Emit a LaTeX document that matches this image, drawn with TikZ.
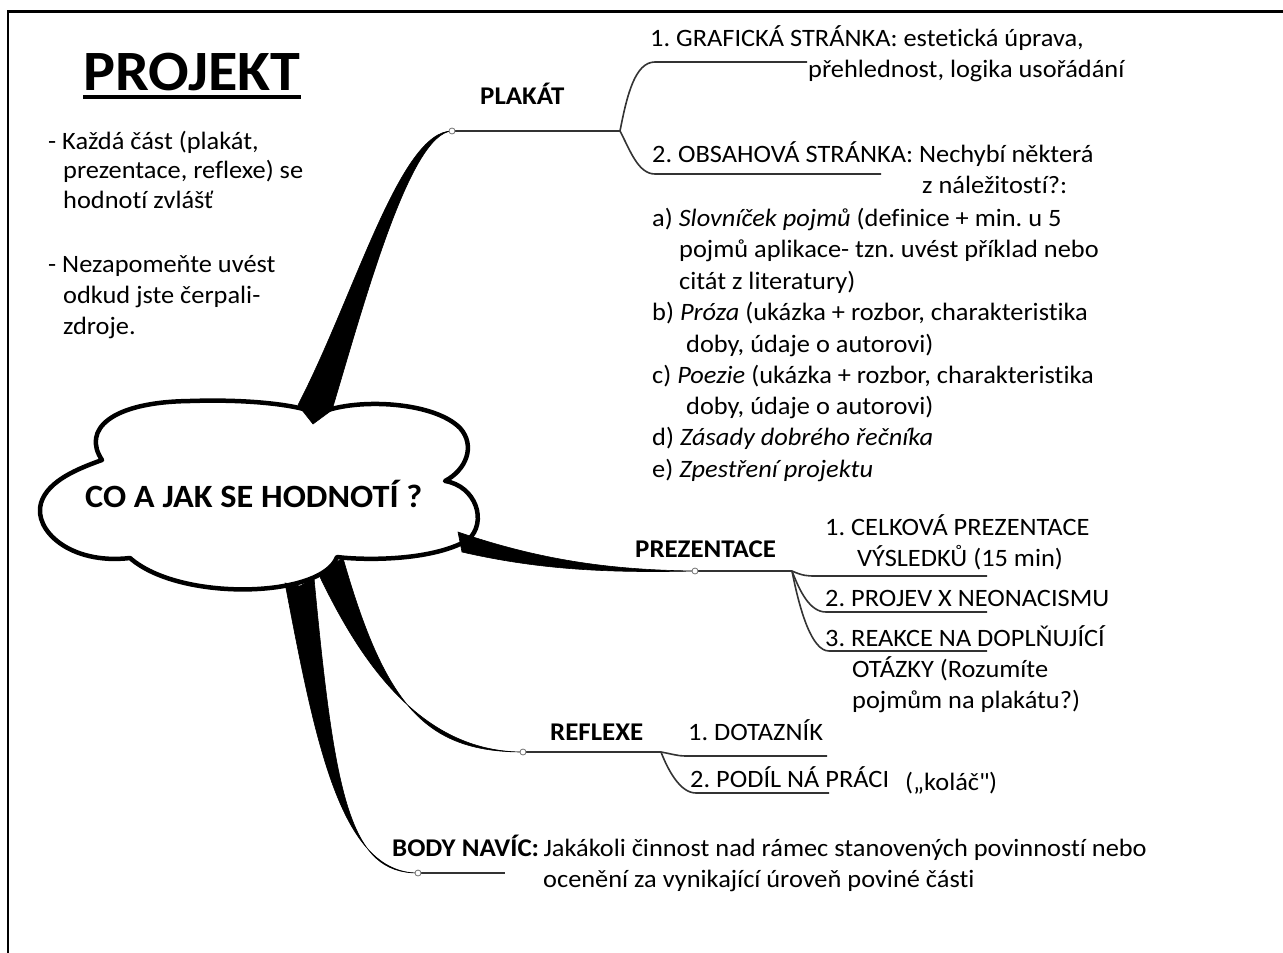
\documentclass[tikz,border=0pt]{standalone}
\usepackage{fontspec}
\setmainfont{Carlito}[FakeStretch=1.055, Ligatures={NoCommon}]
\begin{document}
\frenchspacing
\begin{tikzpicture}[x=1pt,y=-1pt,
  txt/.style={anchor=base west, inner sep=0pt, font=\fontsize{25}{30}\selectfont},
  lbl/.style={anchor=base west, inner sep=0pt, font=\bfseries\fontsize{25.5}{30}\selectfont},
  hubtxt/.style={anchor=base west, inner sep=0pt, font=\bfseries\fontsize{32.5}{38}\selectfont},
  titletxt/.style={anchor=base west, inner sep=0pt, font=\bfseries\fontsize{57}{64}\selectfont},
  cloudline/.style={draw=black, line width=4.5pt, fill=white, line join=round},
  branch/.style={fill=black, draw=black, line width=0.6pt},
  twig/.style={draw=black!80, line width=1.6pt},
  knot/.style={circle, draw=black!55, fill=white, inner sep=0pt, minimum size=6pt, line width=0.8pt}]
\useasboundingbox (0,0) rectangle (1283,953);
\draw[line width=2.5pt] (8,953) -- (8,11.5) -- (1283,11.5);

% title and notes
\node[titletxt] (proj) at (83,90) {PROJEKT};
\draw[line width=3.5pt] ([yshift=-7pt]proj.base west) -- ([yshift=-7pt]proj.base east);
\node[txt] (n1) at (48,149) {- Každá část (plakát,};
\node[txt] (n2) at (63,178) {prezentace, reflexe) se};
\node[txt] (n3) at (63,208) {hodnotí zvlášť};
\node[txt] (n4) at (48,272) {- Nezapomeňte uvést};
\node[txt] (n5) at (63,303) {odkud jste čerpali-};
\node[txt] (n6) at (63,334) {zdroje.};

% cloud
\draw[cloudline] (102,460) .. controls (82,430) and (110,402) .. (190,401)
  .. controls (250,399) and (300,405) .. (318,414)
  .. controls (350,398) and (432,400) .. (460,428)
  .. controls (476,446) and (466,470) .. (445,481)
  .. controls (476,486) and (488,522) .. (468,540)
  .. controls (430,562) and (360,560) .. (337,557)
  .. controls (322,598) and (180,602) .. (130,558)
  .. controls (70,565) and (33,530) .. (41,503)
  .. controls (48,480) and (80,468) .. (102,460) -- cycle;
\node[hubtxt] (hub) at (85,507) {CO A JAK SE HODNOTÍ ?};

% junction coordinates
\coordinate (pk) at (452,131);
\coordinate (pkf) at (620,131);
\coordinate (pr) at (695,571);
\coordinate (prf) at (792,571);
\coordinate (rf) at (523,752);
\coordinate (rff) at (661,752);
\coordinate (bd) at (418,873);

% thick branches
\fill[branch] (298,405) .. controls (355,295) and (400,131) .. (pk)
  .. controls (410,133) and (365,300) .. (332,410) -- (313,424) -- cycle;
\fill[branch] (458,532) .. controls (540,560) and (610,570) .. (pr)
  .. controls (610,573) and (540,570) .. (462,552) -- cycle;
\fill[branch] (320,577) .. controls (360,660) and (420,752) .. (rf)
  .. controls (425,752) and (385,705) .. (343,558) -- (330,566) -- cycle;
\fill[branch] (285,583) .. controls (315,740) and (340,873) .. (bd)
  .. controls (350,873) and (335,800) .. (314,578) -- (300,586) -- cycle;

% PLAKAT
\coordinate (g1) at (807,62);
\coordinate (g2) at (881,174);
\draw[twig] (pk) -- (pkf);
\draw[twig] (pkf) .. controls (627,95) and (635,62) .. (655,62) -- (g1);
\draw[twig] (pkf) .. controls (630,150) and (638,174) .. (655,174) -- (g2);
\node[lbl] (plakat) at (480,104) {PLAKÁT};
\node[txt] (p1a) at (650,46) {1. GRAFICKÁ STRÁNKA: estetická úprava,};
\node[txt] (p1b) at (808,77) {přehlednost, logika usořádání};
\node[txt] (p2a) at (652,162) {2. OBSAHOVÁ STRÁNKA: Nechybí některá};
\node[txt] (p2b) at (922,193) {z náležitostí?:};
\node[txt] (la1) at (652,226) {a) \textit{Slovníček pojmů} (definice + min. u 5};
\node[txt] (la2) at (679,257) {pojmů aplikace- tzn. uvést příklad nebo};
\node[txt] (la3) at (679,289) {citát z literatury)};
\node[txt] (lb1) at (652,320) {b) \textit{Próza} (ukázka + rozbor, charakteristika};
\node[txt] (lb2) at (686,352) {doby, údaje o autorovi)};
\node[txt] (lc1) at (652,383) {c) \textit{Poezie} (ukázka + rozbor, charakteristika};
\node[txt] (lc2) at (686,414) {doby, údaje o autorovi)};
\node[txt] (ld) at (652,445) {d) \textit{Zásady dobrého řečníka}};
\node[txt] (le) at (652,477) {e) \textit{Zpestření projektu}};

% PREZENTACE
\coordinate (q1) at (987,576);
\coordinate (q2) at (987,612);
\coordinate (q3) at (987,651);
\draw[twig] (pr) -- (prf);
\draw[twig] (prf) .. controls (803,576) and (808,576) .. (816,576) -- (q1);
\draw[twig] (prf) .. controls (800,592) and (810,612) .. (826,612) -- (q2);
\draw[twig] (prf) .. controls (800,612) and (812,651) .. (829,651) -- (q3);
\node[lbl] (prez) at (635,557) {PREZENTACE};
\node[txt] (r1a) at (825,535) {1. CELKOVÁ PREZENTACE};
\node[txt] (r1b) at (857,566) {VÝSLEDKŮ (15 min)};
\node[txt] (r2) at (825,606) {2. PROJEV X NEONACISMU};
\node[txt] (r3a) at (825,646) {3. REAKCE NA DOPLŇUJÍCÍ};
\node[txt] (r3b) at (852,677) {OTÁZKY (Rozumíte};
\node[txt] (r3c) at (852,708) {pojmům na plakátu?)};

% REFLEXE
\coordinate (s1) at (827,756);
\coordinate (s2) at (829,793);
\draw[twig] (rf) -- (rff);
\draw[twig] (rff) .. controls (672,754) and (678,756) .. (685,756) -- (s1);
\draw[twig] (rff) .. controls (668,770) and (680,793) .. (696,793) -- (s2);
\node[lbl] (refl) at (550,740) {REFLEXE};
\node[txt] (f1) at (688,740) {1. DOTAZNÍK};
\node[txt] (f2) at (690,787) {2. PODÍL NÁ PRÁCI};
\node[txt] (f2b) at (905,790) {(„koláč\textquotedbl)};

% BODY NAVIC
\coordinate (b1) at (505,873);
\draw[twig] (bd) -- (b1);
\node[lbl] (body) at (392,856) {BODY NAVÍC:};
\node[txt, anchor=base west] (bodyt1) at ([xshift=4pt]body.base east) {Jakákoli činnost nad rámec stanovených povinností nebo};
\node[txt] (bodyt2) at (543,887) {ocenění za vynikající úroveň poviné části};

% knots
\node[knot] at (pk) {};
\node[knot] at (pr) {};
\node[knot] at (rf) {};
\node[knot] at (bd) {};
\end{tikzpicture}
\end{document}
